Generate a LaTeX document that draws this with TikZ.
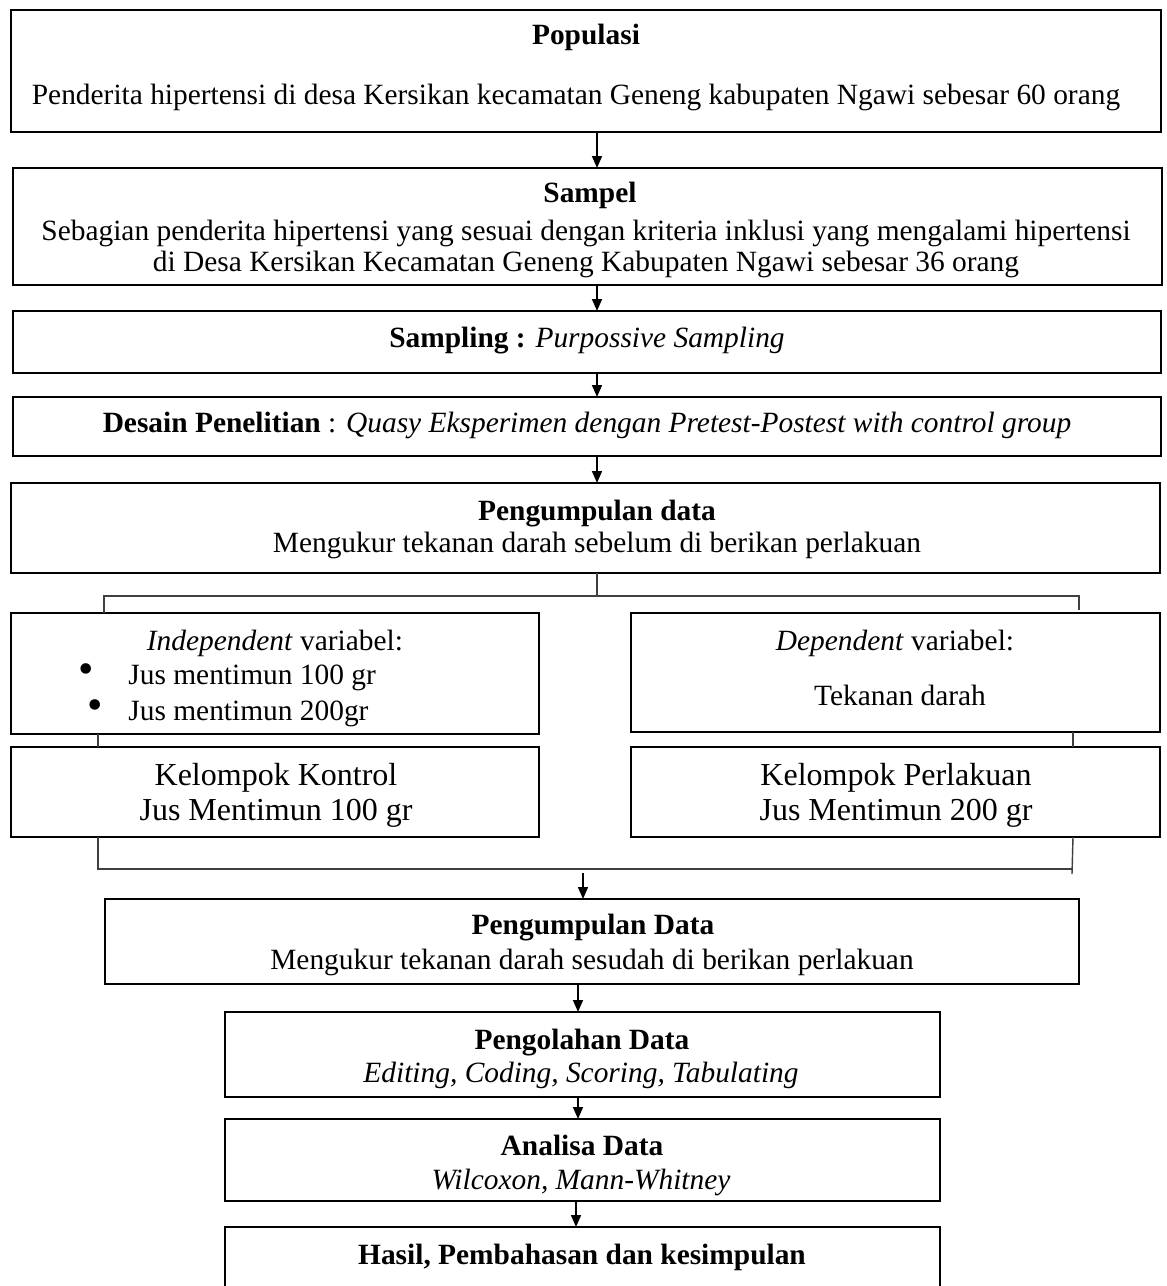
\documentclass[tikz,border=0pt]{standalone}
\usepackage{fontspec}
\setmainfont{Liberation Serif}
\usetikzlibrary{arrows.meta}
\begin{document}
\begin{tikzpicture}[x=0.5pt,y=-0.5pt,
  box/.style={draw, line width=0.9pt, inner sep=0pt, outer sep=0pt},
  t/.style={inner sep=0pt, anchor=mid, font=\fontsize{14.7}{16}\selectfont},
  tb/.style={inner sep=0pt, anchor=mid, font=\fontsize{14.7}{16}\selectfont\bfseries},
  tk/.style={inner sep=0pt, anchor=mid, font=\fontsize{16}{18}\selectfont},
  bul/.style={inner sep=0pt, anchor=mid, font=\fontsize{22}{22}\selectfont},
  arr/.style={line width=0.8pt, -{Triangle[length=6pt,width=5pt]}},
  brk/.style={line width=0.7pt, draw=black!75}]
\useasboundingbox (0,0) rectangle (1167,1286);
\clip (0,0) rectangle (1167,1286);

% boxes
\node[box, minimum width=575pt, minimum height=61pt] (pop) at (586,71) {};
\node[box, minimum width=574.5pt, minimum height=58.5pt] (sam) at (587.5,226.5) {};
\node[box, minimum width=574pt, minimum height=31pt] (smp) at (587,342) {};
\node[box, minimum width=574pt, minimum height=29.5pt] (des) at (587,426.5) {};
\node[box, minimum width=574.5pt, minimum height=45pt] (pgd) at (585.5,528) {};
\node[box, minimum width=264pt, minimum height=60.5pt] (ind) at (275,673.5) {};
\node[box, minimum width=264.5pt, minimum height=59.5pt] (dep) at (895.5,672.5) {};
\node[box, line width=1.1pt, minimum width=264pt, minimum height=45pt] (kk) at (275,792) {};
\node[box, line width=1.1pt, minimum width=264.5pt, minimum height=45pt] (kp) at (895.5,792) {};
\node[box, minimum width=487pt, minimum height=42.5pt] (pd) at (592,941.5) {};
\node[box, minimum width=357.5pt, minimum height=42.5pt] (po) at (582.5,1054.5) {};
\node[box, minimum width=357.5pt, minimum height=41pt] (ad) at (582.5,1160) {};
\node[box, minimum width=357.5pt, minimum height=40pt] (hs) at (582.5,1267) {};

% texts
\node[tb] (popT) at (586,40) {Populasi};
\node[t] (popB) at (576,100) {Penderita hipertensi di desa Kersikan kecamatan Geneng kabupaten Ngawi sebesar 60 orang};
\node[tb] (samT) at (590,198) {Sampel};
\node[t] (samB1) at (586,236) {Sebagian penderita hipertensi yang sesuai dengan kriteria inklusi yang mengalami hipertensi};
\node[t] (samB2) at (586,267) {di Desa Kersikan Kecamatan Geneng Kabupaten Ngawi sebesar 36 orang};
\node[t] (smpT) at (587,343) {\textbf{Sampling :} \textit{Purpossive Sampling}};
\node[t] (desT) at (587,428) {\textbf{Desain Penelitian} : \textit{Quasy Eksperimen dengan Pretest-Postest with control group}};
\node[tb] (pgdT) at (597,516) {Pengumpulan data};
\node[t] (pgdB) at (597,548) {Mengukur tekanan darah sebelum di berikan perlakuan};
\node[t] (indT) at (275,646) {\textit{Independent} variabel:};
\node[bul] (b1) at (86,679) {\textbullet};
\node[t, anchor=mid west] (i1) at (128,680) {Jus mentimun 100 gr};
\node[bul] (b2) at (95,715) {\textbullet};
\node[t, anchor=mid west] (i2) at (128,716) {Jus mentimun 200gr};
\node[t] (depT) at (895,646) {\textit{Dependent} variabel:};
\node[t] (depB) at (900,701) {Tekanan darah};
\node[tk] (kk1) at (276,781) {Kelompok Kontrol};
\node[tk] (kk2) at (276,816) {Jus Mentimun 100 gr};
\node[tk] (kp1) at (896,781) {Kelompok Perlakuan};
\node[tk] (kp2) at (896,816) {Jus Mentimun 200 gr};
\node[tb] (pdT) at (593,930) {Pengumpulan Data};
\node[t] (pdB) at (592,965) {Mengukur tekanan darah sesudah di berikan perlakuan};
\node[tb] (poT) at (582,1045) {Pengolahan Data};
\node[t] (poB) at (581,1078) {\textit{Editing, Coding, Scoring, Tabulating}};
\node[tb] (adT) at (582,1151) {Analisa Data};
\node[t] (adB) at (581,1185) {\textit{Wilcoxon, Mann-Whitney}};
\node[tb] (hsT) at (582,1260) {Hasil, Pembahasan dan kesimpulan};

% arrows
\coordinate (ax) at (597,0);
\draw[arr] (pop.south -| ax) -- (sam.north -| ax);
\draw[arr] (sam.south -| ax) -- (smp.north -| ax);
\draw[arr] (smp.south -| ax) -- (des.north -| ax);
\draw[arr] (des.south -| ax) -- (pgd.north -| ax);

% upper bracket
\coordinate (ubl) at (104,596);
\coordinate (ubr) at (1079,596);
\coordinate (ubm) at (597,596);
\coordinate (ube) at (1079,610);
\draw[brk] (pgd.south -| ax) -- (ubm);
\draw[brk] (ind.north -| ubl) -- (ubl) -- (ubr) -- (ube);
% stubs between variable boxes and group boxes
\coordinate (sl) at (98,0);
\coordinate (sr) at (1073,0);
\draw[brk] (ind.south -| sl) -- (kk.north -| sl);
\draw[brk] (dep.south -| sr) -- (kp.north -| sr);
% lower bracket
\coordinate (lbl) at (98,869);
\coordinate (lbr) at (1073,869);
\coordinate (lbe) at (1072,874);
\draw[brk] (kk.south -| sl) -- (lbl) -- (lbr);
\draw[brk] (kp.south -| sr) -- (lbe);
\coordinate (bx) at (583,873);
\draw[arr] (bx) -- (pd.north -| bx);

\coordinate (cx) at (578,0);
\draw[arr] (pd.south -| cx) -- (po.north -| cx);
\draw[arr] (po.south -| cx) -- (ad.north -| cx);
\coordinate (dx) at (576,0);
\draw[arr] (ad.south -| dx) -- (hs.north -| dx);
\end{tikzpicture}
\end{document}
